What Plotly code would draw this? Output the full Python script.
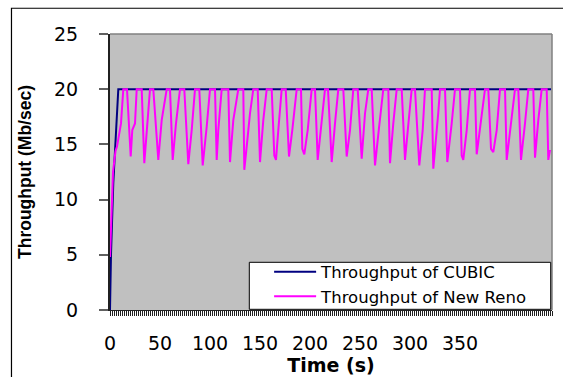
import plotly.graph_objects as go

# ---- data ----
cubic_t = [0, 1, 3.3, 5, 8.3, 441]
cubic_v = [0, 5, 11.5, 14.5, 20, 20]

reno_t = [0, 1.7, 3, 5.5, 7, 11, 13.3,
          17, 20.7, 22.3, 25, 26.7,
          31.7, 34.3, 37.7, 40,
          43.3, 48.3, 51.7, 56.7,
          60, 62.7, 66, 70,
          74.3, 78.3, 81.7, 85,
          89.3, 92.7, 96.7, 100,
          105, 106.7, 108.3, 111.7,
          118.3, 120, 123.3, 128.3,
          133.3, 134.3, 136.7, 140, 143.3,
          147.7, 150, 153.3, 156.7,
          161.7, 164.3, 166, 168.3, 171.7,
          175.7, 179, 182.3, 186.7,
          191, 192.3, 194.3, 197.7, 201.7,
          205, 207.7, 211, 215,
          218, 221.7, 225, 228.3,
          233.3, 236.7, 240, 243.3,
          247.7, 251.7, 255, 258.3,
          261.7, 265, 269, 273.3,
          278.3, 280, 283.3, 286.7,
          291.7, 295, 298, 301.7,
          305, 309.3, 312.7, 315,
          321.7, 323.3, 328.3, 330,
          335, 337.3, 341.7, 345,
          350, 351.7, 353.3, 356.7, 360,
          365, 366.7, 370, 375,
          378.3, 381, 383.3, 386.7, 390,
          395, 396.7, 400, 405,
          408.3, 411, 415, 418.3,
          423.3, 425, 428.3, 431.7,
          436.7, 438.3, 440]
reno_v = [4.8, 9.3, 12.5, 14.4, 14.8, 16.9, 20,
          20, 13.9, 16.3, 16.9, 20,
          20, 13.3, 17.9, 20,
          20, 13.6, 17.2, 20,
          20, 13.6, 16.9, 20,
          20, 13.2, 16.3, 20,
          20, 13.1, 16.6, 20,
          20, 13.6, 16.3, 20,
          20, 13.4, 17.2, 20,
          20, 12.7, 14.8, 17.8, 20,
          20, 13.4, 17.2, 20,
          20, 14.0, 13.6, 16.3, 20,
          20, 13.9, 16.3, 20,
          20, 14.6, 14.1, 16.3, 20,
          20, 13.6, 16.3, 20,
          20, 13.4, 16.9, 20,
          20, 13.9, 16.3, 20,
          20, 13.7, 17.8, 20,
          20, 13.1, 16.5, 20,
          20, 13.3, 16.9, 20,
          20, 13.6, 16.5, 20,
          20, 13.1, 16.3, 20,
          20, 12.8, 17.9, 20,
          20, 13.4, 16.9, 20,
          20, 14.0, 13.6, 16.3, 20,
          20, 14.1, 16.3, 20,
          20, 14.6, 14.3, 16.3, 20,
          20, 13.6, 16.0, 20,
          20, 13.6, 16.9, 20,
          20, 13.8, 17.2, 20,
          20, 13.6, 14.5]

x_label_vals = [0, 50, 100, 150, 200, 250, 300, 350]
x_tick_spacing = 2      # dense category-style tick marks along the time axis
x_max = 442
y_tick_step = 5

x_tickvals = list(range(0, x_max + 1, x_tick_spacing))
x_ticktext = [str(v) if v in x_label_vals else "" for v in x_tickvals]

fig = go.Figure()
fig.add_trace(go.Scatter(x=cubic_t, y=cubic_v, mode="lines",
                         name="Throughput of CUBIC",
                         line=dict(color="#000080", width=2)))
fig.add_trace(go.Scatter(x=reno_t, y=reno_v, mode="lines",
                         name="Throughput of New Reno",
                         line=dict(color="#FF00FF", width=2)))

fig.update_layout(
    width=563, height=377,
    margin=dict(l=110, r=11, t=34, b=67, autoexpand=False),
    paper_bgcolor="white",
    plot_bgcolor="#C0C0C0",
    font=dict(family="DejaVu Sans", size=18, color="black"),
    showlegend=True,
    legend=dict(x=0.36, xanchor="left", y=-0.0127, yanchor="bottom",
                bgcolor="rgba(0,0,0,0)", borderwidth=0,
                font=dict(family="DejaVu Sans", size=16.5, color="black"),
                itemwidth=42, tracegroupgap=0),
    xaxis=dict(range=[0, x_max], tickmode="array",
               tickvals=x_tickvals, ticktext=x_ticktext,
               ticks="outside", ticklen=5, tickcolor="#202020", tickwidth=1,
               showgrid=False, zeroline=False,
               showline=True, linecolor="#202020", linewidth=1,
               ticklabelstandoff=11,
               tickfont=dict(family="DejaVu Sans", size=19),
               title=dict(text="Time (s)", standoff=0,
                          font=dict(family="DejaVu Sans", size=19, weight="bold"))),
    yaxis=dict(range=[0, 25], tickmode="linear", tick0=0, dtick=y_tick_step,
               ticks="outside", ticklen=9, tickcolor="#606060", tickwidth=2,
               showgrid=False, zeroline=False,
               showline=True, linecolor="#202020", linewidth=2,
               ticklabelstandoff=17,
               tickfont=dict(family="DejaVu Sans", size=19),
               title=dict(text="Throughput (Mb/sec)", standoff=18,
                          font=dict(family="Liberation Sans", size=17.5, weight="bold"))),
    shapes=[
        dict(type="line", xref="paper", yref="paper", x0=0, x1=1, y0=1, y1=1,
             line=dict(color="#808080", width=1.5), layer="above"),
        dict(type="line", xref="paper", yref="paper", x0=1, x1=1, y0=0, y1=1,
             line=dict(color="#808080", width=1.5), layer="above"),
        # legend frame
        dict(type="rect", xref="paper", yref="paper",
             x0=(249.3 - 110) / 442, x1=(550.7 - 110) / 442,
             y0=(310 - 309.3) / 276, y1=(310 - 262.3) / 276,
             fillcolor="white", line=dict(color="black", width=1), layer="above"),
        # outer chart frame
        dict(type="rect", xref="paper", yref="paper",
             x0=-0.2229, x1=1.2, y0=-0.5, y1=1.0933,
             line=dict(color="black", width=1.2), layer="above"),
    ],
)

fig.write_html("out.html")
